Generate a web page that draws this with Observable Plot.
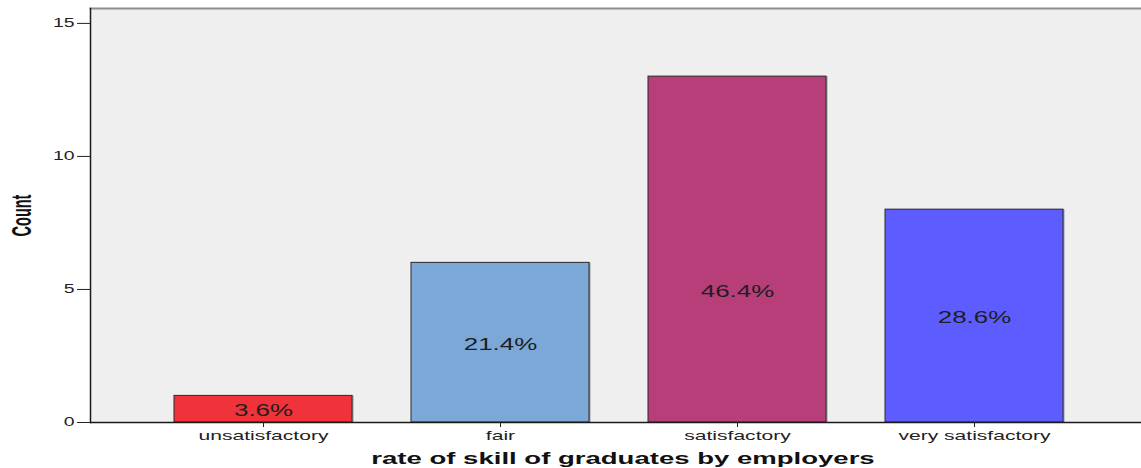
<!DOCTYPE html>
<html>
<head>
<meta charset="utf-8">
<script src="https://cdn.jsdelivr.net/npm/d3@7"></script>
<script src="https://cdn.jsdelivr.net/npm/@observablehq/plot@0.6"></script>
<style>
  html, body { margin: 0; padding: 0; background: white; overflow: hidden; }
</style>
</head>
<body>
<div id="chart"></div>
<script>
const categories = ["unsatisfactory", "fair", "satisfactory", "very satisfactory"];
const counts = [1, 6, 13, 8];
const percentLabels = ["3.6%", "21.4%", "46.4%", "28.6%"];
const barColors = ["#f0323a", "#7ba8d6", "#b83e7a", "#5c5cff"];
const yTicks = [0, 5, 10, 15];
const yMax = 15.56;
const yLabel = "Count";
const xLabel = "rate of skill of graduates by employers";

const data = categories.map((c, i) => ({category: c, count: counts[i], label: percentLabels[i]}));

const svg = Plot.plot({
  width: 1141,
  height: 468,
  marginLeft: 90,
  marginRight: 0,
  marginTop: 8,
  marginBottom: 46,
  style: {fontFamily: "'Liberation Sans', Arial, sans-serif", background: "white", color: "#222", overflow: "visible"},
  x: {domain: categories, range: [89, 1147], paddingInner: 0.25, paddingOuter: 0.35, axis: null},
  y: {domain: [0, yMax], axis: null},
  color: {domain: categories, range: barColors},
  marks: [
    Plot.frame({fill: "#efefef", stroke: null}),
    Plot.frame({anchor: "top", stroke: "#8c8c8c", strokeWidth: 2}),
    Plot.barY(data, {x: "category", y: "count", fill: "#9a9a9a", dx: 1.5}),
    Plot.barY(data, {x: "category", y: "count", fill: "category", stroke: "#2b2b2b", strokeWidth: 1}),
    Plot.text(data, {x: "category", y: d => Math.min(d.count / 2, 5), text: "label", fontSize: 16, fill: "#1e1e1e", dy: 2}),
    Plot.ruleY([0], {stroke: "#1a1a1a", strokeWidth: 1.5}),
    Plot.frame({anchor: "left", stroke: "#1a1a1a", strokeWidth: 1.5}),
    Plot.axisY({ticks: yTicks, tickSize: 13, tickPadding: 3, fontSize: 12, label: null, stroke: "#222"}),
    Plot.axisX({tickSize: 5, tickPadding: 3, fontSize: 13, label: null, stroke: "#222"}),
    Plot.text([yLabel], {text: d => d, frameAnchor: "left", textAnchor: "middle", dx: -68.5, rotate: -90, fontWeight: "bold", fontSize: 14.5, fill: "#111"}),
    Plot.text([xLabel], {text: d => d, frameAnchor: "bottom", dx: 7, dy: 41, fontWeight: "bold", fontSize: 17, fill: "#111"})
  ]
});

// horizontal stretch of glyphs to mimic the reference rendering
const S = 1.62;
const SR = 1.9;
svg.querySelectorAll("text").forEach(el => {
  const x = parseFloat(el.getAttribute("x")) || 0;
  const t = el.getAttribute("transform") || "";
  const rotated = /rotate/.test(t);
  const sc = rotated ? `scale(1,${SR})` : `scale(${S},1)`;
  el.setAttribute("transform", `${t} translate(${x},0) ${sc} translate(${-x},0)`);
});

document.getElementById("chart").appendChild(svg);
</script>
</body>
</html>
